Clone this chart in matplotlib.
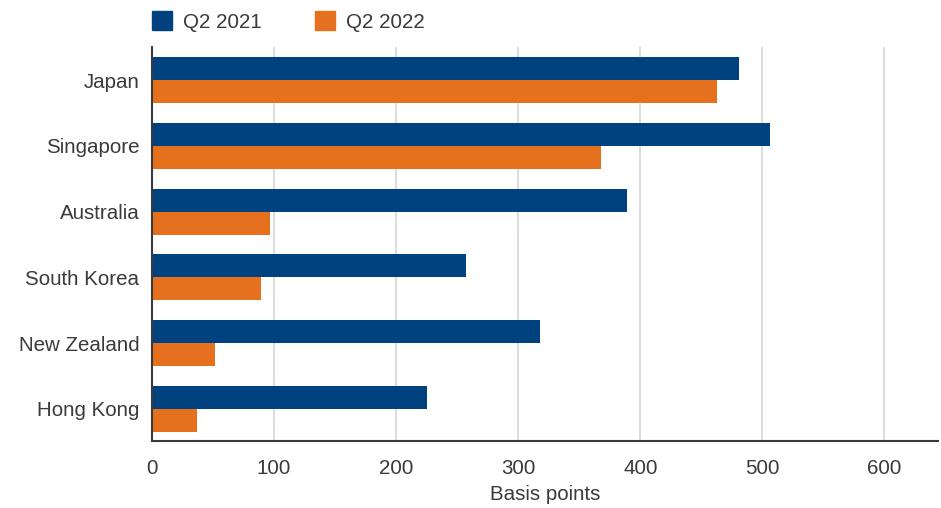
import numpy as np
import matplotlib
matplotlib.use("Agg")
import matplotlib.pyplot as plt
from matplotlib.patches import Patch

countries = ["Japan", "Singapore", "Australia", "South Korea", "New Zealand", "Hong Kong"]
q2_2021 = [481, 506, 389, 257, 318, 225]
q2_2022 = [463, 368, 97, 89, 52, 37]
x_ticks = [0, 100, 200, 300, 400, 500, 600]

blue = "#00427F"
orange = "#E5711E"
text_col = "#3a3a3a"

plt.rcParams["font.family"] = ["Liberation Sans", "DejaVu Sans"]
plt.rcParams["font.size"] = 14.8

fig = plt.figure(figsize=(9.41, 5.08), dpi=100)
ax = fig.add_axes([0.1615, 0.132, 0.8355, 0.776])

y = np.arange(len(countries))
h = 0.35
ax.barh(y - h / 2, q2_2021, height=h, color=blue, zorder=3)
ax.barh(y + h / 2, q2_2022, height=h, color=orange, zorder=3)

ax.set_ylim(len(countries) - 0.51, -0.51)
ax.set_xlim(0, 644)
ax.set_yticks(y)
ax.set_yticklabels(countries, color=text_col)
ax.set_xticks(x_ticks)
ax.set_xticklabels([str(t) for t in x_ticks], color=text_col)
ax.tick_params(axis="both", length=0)
ax.tick_params(axis="x", pad=13)
ax.tick_params(axis="y", pad=9)

# 只保留左边框和下边框
ax.spines["top"].set_visible(False)
ax.spines["right"].set_visible(False)
for s in ["left", "bottom"]:
    ax.spines[s].set_color(text_col)
    ax.spines[s].set_linewidth(1.5)
    ax.spines[s].set_zorder(4)

ax.xaxis.grid(True, color="#d6d6d6", linewidth=1.2, zorder=0)
ax.set_axisbelow(True)

ax.set_xlabel("Basis points", color=text_col, labelpad=5)

handles = [Patch(color=blue, label="Q2 2021"), Patch(color=orange, label="Q2 2022")]
fig.legend(handles=handles, loc="upper left", bbox_to_anchor=(0.146, 1.006), ncol=2,
           frameon=False, handlelength=1.0, handleheight=1.0, handletextpad=0.5,
           columnspacing=2.6, labelcolor=text_col, borderaxespad=0.3)

plt.savefig("out.png", dpi=100)
